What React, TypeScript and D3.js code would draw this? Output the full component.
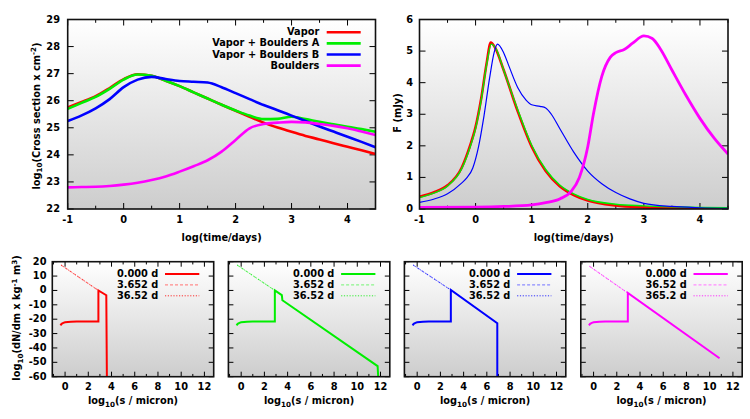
import React, { useEffect, useRef } from 'react';
import * as d3 from 'd3';

type Pt = [number, number];

// log10(cross section) sampled on a regular grid in log(time/days)
const logTime = [-1, -0.75, -0.5, -0.25, 0, 0.25, 0.5, 0.75, 1, 1.25, 1.5, 1.75, 2, 2.25, 2.5, 2.75, 3, 3.25, 3.5, 3.75, 4, 4.25, 4.5];
const crossVapor = [25.75, 25.95, 26.17, 26.47, 26.8, 26.98, 26.92, 26.74, 26.54, 26.31, 26.08, 25.85, 25.63, 25.41, 25.19, 25.01, 24.85, 24.7, 24.57, 24.43, 24.3, 24.17, 24.03];
const crossVaporA = [25.7, 25.92, 26.14, 26.44, 26.78, 26.97, 26.92, 26.74, 26.54, 26.31, 26.08, 25.85, 25.64, 25.45, 25.32, 25.33, 25.41, 25.32, 25.22, 25.13, 25.04, 24.95, 24.85];
const crossVaporB = [25.25, 25.46, 25.72, 26.06, 26.5, 26.78, 26.88, 26.8, 26.73, 26.7, 26.67, 26.5, 26.28, 26.06, 25.84, 25.65, 25.45, 25.25, 25.05, 24.86, 24.67, 24.48, 24.28];
const crossBoulders = [22.8, 22.81, 22.82, 22.85, 22.9, 22.97, 23.07, 23.2, 23.38, 23.58, 23.8, 24.12, 24.55, 24.98, 25.14, 25.19, 25.22, 25.2, 25.14, 25.07, 24.98, 24.86, 24.73];

// light curves: [log(time/days), F in mJy]
const fluxVapor: Pt[] = [[-1, 0.39], [-0.75, 0.52], [-0.5, 0.75], [-0.25, 1.3], [-0.1, 2.0], [0, 2.6], [0.1, 3.5], [0.2, 4.65], [0.27, 5.27], [0.35, 5.1], [0.5, 4.4], [0.75, 3.1], [1, 1.97], [1.25, 1.2], [1.5, 0.72], [1.75, 0.44], [2, 0.27], [2.5, 0.11], [3, 0.05], [3.5, 0.02], [4, 0.01], [4.5, 0.01]];
const fluxVaporA: Pt[] = [[-1, 0.36], [-0.75, 0.5], [-0.5, 0.73], [-0.25, 1.27], [-0.1, 1.95], [0, 2.55], [0.1, 3.45], [0.2, 4.6], [0.28, 5.22], [0.37, 5.05], [0.5, 4.4], [0.75, 3.15], [1, 2.02], [1.25, 1.25], [1.5, 0.76], [1.75, 0.48], [2, 0.3], [2.5, 0.15], [3, 0.1], [3.5, 0.07], [4, 0.05], [4.5, 0.04]];
const fluxVaporB: Pt[] = [[-1, 0.21], [-0.75, 0.31], [-0.5, 0.48], [-0.25, 0.82], [-0.15, 1.0], [-0.05, 1.3], [0.05, 1.95], [0.15, 2.95], [0.25, 4.15], [0.33, 4.95], [0.39, 5.22], [0.5, 4.95], [0.6, 4.5], [0.75, 3.85], [0.9, 3.45], [1, 3.3], [1.15, 3.25], [1.25, 3.2], [1.35, 3.0], [1.5, 2.55], [1.75, 1.8], [2, 1.2], [2.25, 0.8], [2.5, 0.52], [2.75, 0.32], [3, 0.18], [3.5, 0.08], [4, 0.04], [4.5, 0.02]];
const fluxBoulders: Pt[] = [[-1, 0.05], [0, 0.06], [0.5, 0.08], [1, 0.13], [1.25, 0.2], [1.5, 0.32], [1.7, 0.55], [1.85, 1.0], [2, 1.97], [2.1, 3.0], [2.25, 4.2], [2.4, 4.8], [2.5, 4.95], [2.65, 5.05], [2.8, 5.25], [3, 5.48], [3.15, 5.4], [3.3, 5.05], [3.5, 4.4], [3.75, 3.6], [4, 2.87], [4.25, 2.25], [4.5, 1.74]];

const seriesNames = ['Vapor', 'Vapor + Boulders A', 'Vapor + Boulders B', 'Boulders'];
const seriesColors = ['#ff0000', '#00ee00', '#0000ff', '#ff00ff'];

// size distributions: [log10(s/micron), log10(dN/dm)]
const sdVaporT0: Pt[] = [[-0.4, -24.3], [-0.3, -23.2], [-0.15, -22.5], [0, -22.1], [0.5, -21.7], [1, -21.6], [2.87, -21.6], [2.87, 0], [3.55, -3.3], [3.6, -60]];
const sdVaporLate: Pt[] = [[-0.35, 17.7], [2.87, 0]];
const sdVaporA_T0: Pt[] = [[-0.4, -24.3], [-0.3, -23.2], [-0.15, -22.5], [0, -22.1], [0.5, -21.7], [1, -21.6], [2.9, -21.6], [2.9, 0], [3.5, -3.3], [3.55, -6.8], [11.75, -52.6], [11.8, -60]];
const sdVaporA_Late: Pt[] = [[-0.35, 17.7], [2.9, 0]];
const sdVaporB_T0: Pt[] = [[-0.4, -24.3], [-0.3, -23.2], [-0.15, -22.5], [0, -22.1], [0.5, -21.7], [1, -21.6], [2.9, -21.6], [2.9, 0.3], [6.9, -22.8], [6.9, -60]];
const sdVaporB_Late: Pt[] = [[-0.35, 17.7], [2.9, 0.3]];
const sdBouldersT0: Pt[] = [[-0.4, -24.3], [-0.3, -23.2], [-0.15, -22.5], [0, -22.1], [0.5, -21.7], [1, -21.6], [2.95, -21.6], [2.95, -1.8], [10.85, -47.2]];
const sdBouldersLate: Pt[] = [[-0.35, 16.8], [2.95, -1.8]];

const sdSolid = [sdVaporT0, sdVaporA_T0, sdVaporB_T0, sdBouldersT0];
const sdLate = [sdVaporLate, sdVaporA_Late, sdVaporB_Late, sdBouldersLate];
const sdLabels = [
  ['0.000 d', '3.652 d', '36.52 d'],
  ['0.000 d', '3.652 d', '36.52 d'],
  ['0.000 d', '3.652 d', '36.52 d'],
  ['0.000 d', '36.52 d', '365.2 d'],
];

const FONT = 'DejaVu Sans';
const FS = 9.8;
const SUB = 7.2;

type G = d3.Selection<SVGGElement, unknown, null, undefined>;
type Lin = d3.ScaleLinear<number, number>;

function label(g: G, x: number, y: number, txt: string, anchor = 'middle') {
  return g.append('text')
    .attr('x', x).attr('y', y)
    .attr('text-anchor', anchor)
    .attr('dominant-baseline', 'middle')
    .attr('font-family', FONT).attr('font-weight', 'bold').attr('font-size', FS)
    .attr('fill', '#000')
    .text(txt);
}

// gnuplot-like box: gradient fill, mirrored inward ticks
function drawBox(g: G, x: Lin, y: Lin, xTicks: number[], xMinor: number[], yTicks: number[], tickLen: number) {
  const [x0, x1] = x.range();
  const [yb, yt] = y.range();
  g.append('rect')
    .attr('x', x0).attr('y', yt).attr('width', x1 - x0).attr('height', yb - yt)
    .attr('fill', 'url(#panelBg)');
  const t = g.append('g').attr('stroke', '#000').attr('stroke-width', 1);
  const xt = (v: number, len: number) => {
    t.append('line').attr('x1', x(v)).attr('x2', x(v)).attr('y1', yb).attr('y2', yb - len);
    t.append('line').attr('x1', x(v)).attr('x2', x(v)).attr('y1', yt).attr('y2', yt + len);
  };
  xTicks.forEach(v => xt(v, tickLen));
  xMinor.forEach(v => xt(v, tickLen * 0.55));
  yTicks.forEach(v => {
    t.append('line').attr('x1', x0).attr('x2', x0 + tickLen).attr('y1', y(v)).attr('y2', y(v));
    t.append('line').attr('x1', x1).attr('x2', x1 - tickLen).attr('y1', y(v)).attr('y2', y(v));
  });
}

function drawBorder(g: G, x: Lin, y: Lin) {
  const [x0, x1] = x.range();
  const [yb, yt] = y.range();
  g.append('rect')
    .attr('x', x0).attr('y', yt).attr('width', x1 - x0).attr('height', yb - yt)
    .attr('fill', 'none').attr('stroke', '#111').attr('stroke-width', 1.6);
}

const App: React.FC = () => {
  const svgRef = useRef<SVGSVGElement>(null);

  useEffect(() => {
    if (!svgRef.current) return;
    const svg = d3.select(svgRef.current);
    svg.selectAll('*').remove();

    const defs = svg.append('defs');
    const grad = defs.append('linearGradient')
      .attr('id', 'panelBg')
      .attr('x1', '0%').attr('y1', '0%').attr('x2', '0%').attr('y2', '100%');
    grad.append('stop').attr('offset', '0%').attr('stop-color', '#ffffff');
    grad.append('stop').attr('offset', '100%').attr('stop-color', '#cdcdcd');

    const root = svg.append('g') as unknown as G;
    root.append('rect').attr('width', 750).attr('height', 419).attr('fill', '#fff');

    const timeTicks = d3.range(-1, 5, 1);
    const timeMinor = d3.range(-0.5, 4.6, 1);

    // ---- cross section panel ----
    {
      const x = d3.scaleLinear().domain([-1, 4.5]).range([67.7, 375.5]);
      const y = d3.scaleLinear().domain([22, 29]).range([209, 19.5]);
      const g = root.append('g') as unknown as G;
      drawBox(g, x, y, timeTicks, timeMinor, d3.range(22, 30), 6);

      defs.append('clipPath').attr('id', 'clipA').append('rect')
        .attr('x', 67.7).attr('y', 19.5).attr('width', 375.5 - 67.7).attr('height', 209 - 19.5);
      const line = d3.line<number>()
        .x((_, i) => x(logTime[i]))
        .y(d => y(d))
        .curve(d3.curveMonotoneX);
      const series = [crossVapor, crossVaporA, crossVaporB, crossBoulders];
      const lines = g.append('g').attr('clip-path', 'url(#clipA)');
      series.forEach((s, i) => {
        lines.append('path').datum(s)
          .attr('fill', 'none').attr('stroke', seriesColors[i]).attr('stroke-width', 2.6)
          .attr('stroke-linejoin', 'round')
          .attr('d', line);
      });

      drawBorder(g, x, y);
      timeTicks.forEach(v => label(g, x(v), 220, String(v)));
      d3.range(22, 30).forEach(v => label(g, 60, y(v), String(v), 'end'));
      label(g, x(1.75), 237.5, 'log(time/days)');

      const yl = g.append('text')
        .attr('transform', 'translate(39.5,116) rotate(-90)')
        .attr('text-anchor', 'middle')
        .attr('font-family', FONT).attr('font-weight', 'bold').attr('font-size', FS);
      yl.append('tspan').text('log');
      yl.append('tspan').attr('font-size', SUB).attr('dy', 2.5).text('10');
      yl.append('tspan').attr('dy', -2.5).text('(Cross section x cm');
      yl.append('tspan').attr('font-size', SUB).attr('dy', -3.5).text('-2');
      yl.append('tspan').attr('dy', 3.5).text(')');

      // legend
      seriesNames.forEach((name, i) => {
        const ly = 32.3 + i * 11.1;
        label(g, 319.3, ly, name, 'end');
        g.append('line').attr('x1', 326.7).attr('x2', 360.7).attr('y1', ly).attr('y2', ly)
          .attr('stroke', seriesColors[i]).attr('stroke-width', 2.6);
      });
    }

    // ---- flux panel ----
    {
      const x = d3.scaleLinear().domain([-1, 4.5]).range([419.5, 728]);
      const y = d3.scaleLinear().domain([0, 6]).range([209, 19.5]);
      const g = root.append('g') as unknown as G;
      drawBox(g, x, y, timeTicks, timeMinor, d3.range(0, 7), 6);

      defs.append('clipPath').attr('id', 'clipB').append('rect')
        .attr('x', 419.5).attr('y', 19.5).attr('width', 728 - 419.5).attr('height', 209 - 19.5);
      const line = d3.line<Pt>()
        .x(d => x(d[0]))
        .y(d => y(d[1]))
        .curve(d3.curveMonotoneX);
      const lines = g.append('g').attr('clip-path', 'url(#clipB)');
      const widths = [2.6, 1.4, 1.2, 2.8];
      [fluxVapor, fluxVaporA, fluxVaporB, fluxBoulders].forEach((s, i) => {
        lines.append('path').datum(s)
          .attr('fill', 'none').attr('stroke', seriesColors[i]).attr('stroke-width', widths[i])
          .attr('d', line);
      });

      drawBorder(g, x, y);
      timeTicks.forEach(v => label(g, x(v), 220, String(v)));
      d3.range(0, 7).forEach(v => label(g, 413, y(v), String(v), 'end'));
      label(g, x(1.75), 237.5, 'log(time/days)');
      g.append('text')
        .attr('transform', 'translate(401,113) rotate(-90)')
        .attr('text-anchor', 'middle')
        .attr('font-family', FONT).attr('font-weight', 'bold').attr('font-size', FS)
        .text('F (mJy)');
    }

    // ---- size distribution panels ----
    const sizeTicks = d3.range(0, 13, 2);
    const sizeMinor = [-1, 1, 3, 5, 7, 9, 11];
    const dnTicks = d3.range(-60, 21, 10);
    const lightColors = ['#ff8c8c', '#8cf58c', '#8c8cff', '#ff8cff'];
    const panelLeft = [52.3, 228.4, 404.4, 580.8];
    const panelW = 161.4;

    sdSolid.forEach((solid, p) => {
      const x0 = panelLeft[p];
      const x = d3.scaleLinear().domain([-1.1, 12.8]).range([x0, x0 + panelW]);
      const y = d3.scaleLinear().domain([-60, 20]).range([376.7, 261.7]);
      const g = root.append('g') as unknown as G;
      drawBox(g, x, y, sizeTicks, sizeMinor, dnTicks, 5);

      const clipId = `clipSd${p}`;
      defs.append('clipPath').attr('id', clipId).append('rect')
        .attr('x', x0).attr('y', 261.7).attr('width', panelW).attr('height', 376.7 - 261.7);
      const line = d3.line<Pt>().x(d => x(d[0])).y(d => y(d[1]));
      const lines = g.append('g').attr('clip-path', `url(#${clipId})`);
      lines.append('path').datum(sdLate[p])
        .attr('fill', 'none').attr('stroke', lightColors[p]).attr('stroke-width', 1.1)
        .attr('stroke-dasharray', '3,2').attr('d', line);
      lines.append('path').datum(sdLate[p])
        .attr('fill', 'none').attr('stroke', seriesColors[p]).attr('stroke-width', 0.7)
        .attr('stroke-dasharray', '1.2,1.6').attr('d', line);
      lines.append('path').datum(solid)
        .attr('fill', 'none').attr('stroke', seriesColors[p]).attr('stroke-width', 2)
        .attr('d', line);

      drawBorder(g, x, y);
      sizeTicks.forEach(v => label(g, x(v), 386.7, String(v)));
      if (p === 0) dnTicks.forEach(v => label(g, 46.5, y(v), String(v), 'end'));

      const xl = g.append('text')
        .attr('x', x0 + panelW / 2).attr('y', 403.5)
        .attr('text-anchor', 'middle')
        .attr('font-family', FONT).attr('font-weight', 'bold').attr('font-size', FS);
      xl.append('tspan').text('log');
      xl.append('tspan').attr('font-size', SUB).attr('dy', 3).text('10');
      xl.append('tspan').attr('dy', -3).text('(s / micron)');

      // legend
      sdLabels[p].forEach((txt, i) => {
        const ly = 274 + i * 10.9;
        label(g, x0 + 106, ly, txt, 'end');
        const l = g.append('line')
          .attr('x1', x0 + 112.7).attr('x2', x0 + 147).attr('y1', ly).attr('y2', ly);
        if (i === 0) l.attr('stroke', seriesColors[p]).attr('stroke-width', 2);
        else if (i === 1) l.attr('stroke', lightColors[p]).attr('stroke-width', 1.2).attr('stroke-dasharray', '3,2');
        else l.attr('stroke', seriesColors[p]).attr('stroke-width', 0.8).attr('stroke-dasharray', '1.2,1.6');
      });
    });

    const yl = root.append('text')
      .attr('transform', 'translate(20,318) rotate(-90)')
      .attr('text-anchor', 'middle')
      .attr('font-family', FONT).attr('font-weight', 'bold').attr('font-size', FS);
    yl.append('tspan').text('log');
    yl.append('tspan').attr('font-size', SUB).attr('dy', 2.5).text('10');
    yl.append('tspan').attr('dy', -2.5).text('(dN/dm x kg');
    yl.append('tspan').attr('font-size', SUB).attr('dy', -3.5).text('-1');
    yl.append('tspan').attr('dy', 3.5).text(' m');
    yl.append('tspan').attr('font-size', SUB).attr('dy', -3.5).text('3');
    yl.append('tspan').attr('dy', 3.5).text(')');
  }, []);

  return (
    <svg
      ref={svgRef}
      width={750}
      height={419}
      style={{ position: 'absolute', left: 0, top: 0 }}
    />
  );
};

export default App;
